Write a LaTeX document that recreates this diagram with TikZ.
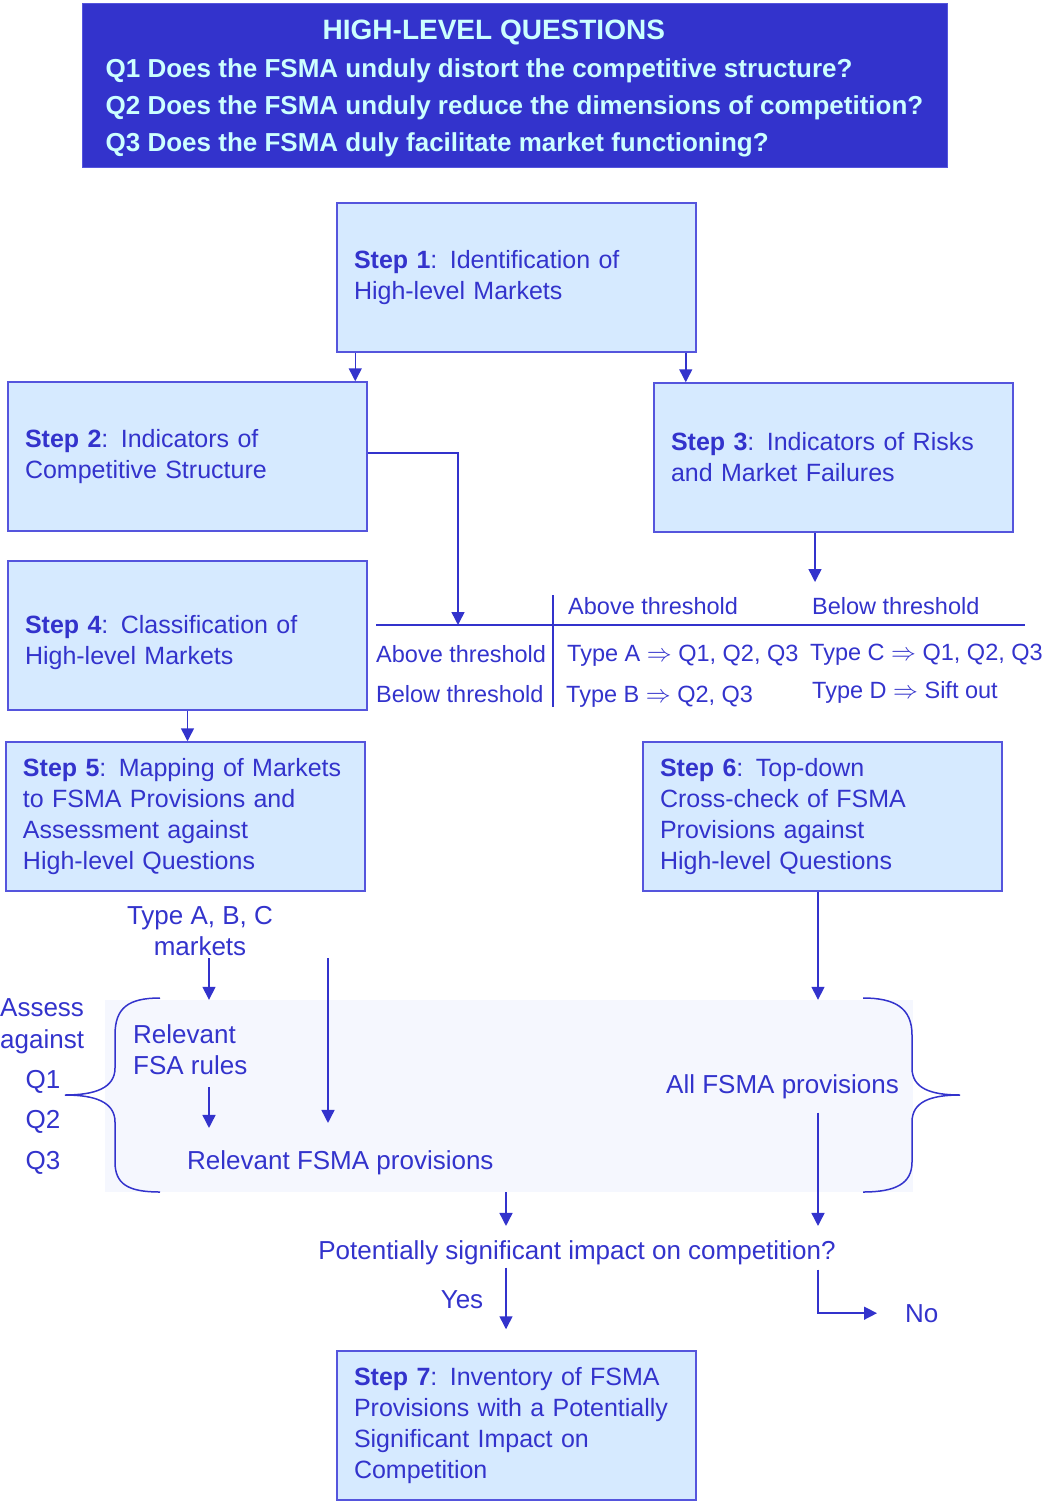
\documentclass[tikz,border=0pt]{standalone}
\usepackage{fontspec}
\setmainfont{Liberation Sans}
\usetikzlibrary{arrows.meta}

\definecolor{fsblue}{RGB}{51,51,204}
\definecolor{boxfill}{RGB}{214,234,255}
\definecolor{boxline}{RGB}{85,85,221}
\definecolor{headtext}{RGB}{204,255,255}
\definecolor{poolfill}{RGB}{245,247,254}

\newcommand{\bodyfont}{\fontsize{26}{31}\selectfont}
\newcommand{\stepfont}{\fontsize{25}{31}\selectfont\hyphenpenalty=10000}
\newcommand{\tablefont}{\fontsize{23.5}{31}\selectfont}

\begin{document}
\begin{tikzpicture}[x=1pt, y=-1pt,
    stepbox/.style={draw=boxline, fill=boxfill, line width=1.5pt, minimum width=359pt,
        minimum height=149pt, text width=325pt, inner xsep=17pt, align=left,
        text=fsblue, font=\stepfont},
    lbl/.style={text=fsblue, font=\bodyfont, inner sep=0pt},
    cell/.style={lbl, anchor=base west, font=\tablefont},
    arr/.style={-{Triangle[length=13pt,width=13pt]}, fsblue, line width=1.5pt},
    rule/.style={fsblue, line width=1.5pt}
]
    \useasboundingbox (0,0) rectangle (1046,1501);

    % High-level questions
    \node[fill=fsblue, draw=boxline, minimum width=865pt, minimum height=164pt] (title) at (514.5,85) {};
    \node[text=headtext, align=left, inner sep=0pt,
        font=\fontsize{26}{37}\selectfont\bfseries] (questions) at (514.5,88.5)
        {\hspace*{217pt}{\fontsize{28}{37}\selectfont HIGH-LEVEL QUESTIONS}\\[1pt]
         Q1 Does the FSMA unduly distort the competitive structure?\\
         Q2 Does the FSMA unduly reduce the dimensions of competition?\\
         Q3 Does the FSMA duly facilitate market functioning?};

    % Steps
    \node[stepbox] (step1) at (516.5,277.5) {\textbf{Step 1}: Identification of\\High-level Markets};
    \node[stepbox] (step2) at (187.5,456.5) {\textbf{Step 2}: Indicators of\\Competitive Structure};
    \node[stepbox] (step3) at (833.5,457.5) {\textbf{Step 3}: Indicators of Risks\\and Market Failures};
    \node[stepbox] (step4) at (187.5,635.5) {\rule{0pt}{32pt}\textbf{Step 4}: Classification of\\High-level Markets};
    \node[stepbox] (step5) at (185.5,816.5) {\textbf{Step 5}: Mapping of Markets\\to FSMA Provisions and\\Assessment against\\High-level Questions};
    \node[stepbox] (step6) at (822.5,816.5) {\textbf{Step 6}: Top-down\\Cross-check of FSMA\\Provisions against\\High-level Questions};
    \node[stepbox] (step7) at (516.5,1425.5) {\textbf{Step 7}: Inventory of FSMA\\Provisions with a Potentially\\Significant Impact on\\Competition};

    % Classification table
    \coordinate (split2) at (458,625);
    \coordinate (split3) at (815,582);
    \draw[rule] (376,625) -- (1025,625);
    \draw[rule] (553,595) -- (553,707);
    \node[cell] (hd-above) at (568,614) {Above threshold};
    \node[cell] (hd-below) at (812,614) {Below threshold};
    \node[cell] (rw-above) at (376,662) {Above threshold};
    \node[cell] (rw-below) at (376,702) {Below threshold};
    \node[cell] (typeA) at (567,661) {Type A $\Rightarrow$ Q1, Q2, Q3};
    \node[cell] (typeB) at (566,702) {Type B $\Rightarrow$ Q2, Q3};
    \node[cell] (typeC) at (810,660) {Type C $\Rightarrow$ Q1, Q2, Q3};
    \node[cell] (typeD) at (812,698) {Type D $\Rightarrow$ Sift out};

    % Assessment area
    \node[fill=poolfill, minimum width=808pt, minimum height=192pt, inner sep=0pt] (pool) at (509,1096) {};
    \draw[rule] (160,998) .. controls (128,998) and (115,1008) .. (115,1035) -- (115,1068)
        .. controls (115,1088) and (95,1095) .. (65,1095)
        .. controls (95,1095) and (115,1102) .. (115,1122) -- (115,1162)
        .. controls (115,1184) and (128,1192) .. (160,1192);
    \draw[rule] (863,998) .. controls (895,998) and (912,1008) .. (912,1035) -- (912,1068)
        .. controls (912,1088) and (930,1095) .. (960,1095)
        .. controls (930,1095) and (912,1102) .. (912,1122) -- (912,1162)
        .. controls (912,1184) and (895,1192) .. (863,1192);

    \node[lbl, anchor=base, align=center] (abc) at (200,955) {Type A, B, C\\markets};
    \node[lbl, anchor=base west, align=left, font=\fontsize{26}{32}\selectfont] (assess) at (0,1048) {Assess\\against};
    \node[lbl, anchor=base, align=center, font=\fontsize{26}{40.5}\selectfont] (qlist) at (43,1169) {Q1\\Q2\\Q3};
    \node[lbl, anchor=base west, align=left] (fsa) at (133,1074) {Relevant\\FSA rules};
    \node[lbl, anchor=base west] (fsma) at (187,1169) {Relevant FSMA provisions};
    \node[lbl, anchor=base west] (allfsma) at (666,1093) {All FSMA provisions};
    \node[lbl, anchor=base] (question) at (577,1259) {Potentially significant impact on competition?};
    \node[lbl, anchor=base] (yes) at (462,1308) {Yes};
    \node[lbl, anchor=base west] (no) at (905,1322) {No};

    % Columns of the arrows
    \coordinate (colA) at (209,0);
    \coordinate (colB) at (328,0);
    \coordinate (colC) at (818,0);
    \coordinate (colD) at (506,0);

    % Connectors
    \draw[arr] ([xshift=19pt]step1.south west) -- ([xshift=19pt]step1.south west |- step2.north);
    \draw[arr] ([xshift=-11pt]step1.south east) -- ([xshift=-11pt]step1.south east |- step3.north);
    \draw[arr] ([yshift=3.5pt]step2.east) -| (split2);
    \draw[arr] (step3.south -| split3) -- (split3);
    \draw[arr] (step4.south) -- (step4.south |- step5.north);
    \draw[arr, shorten <=3pt] (abc.south -| colA) -- (pool.north -| colA);
    \draw[arr, shorten <=3pt, shorten >=27pt] (abc.south -| colB) -- (fsma.north -| colB);
    \draw[arr, shorten <=13pt, shorten >=22pt] (fsa.south -| colA) -- (fsma.north -| colA);
    \draw[arr] (step6.south -| colC) -- (pool.north -| colC);
    \draw[arr, shorten <=14pt, shorten >=14pt] (allfsma.south -| colC) -- (question.north -| colC);
    \draw[arr, shorten >=14pt] (pool.south -| colD) -- (question.north -| colD);
    \draw[arr, shorten <=3pt, shorten >=21pt] (question.south -| colD) -- (step7.north -| colD);
    \draw[arr, shorten <=5pt, shorten >=28pt] (question.south -| colC) |- (no.west);
\end{tikzpicture}
\end{document}
